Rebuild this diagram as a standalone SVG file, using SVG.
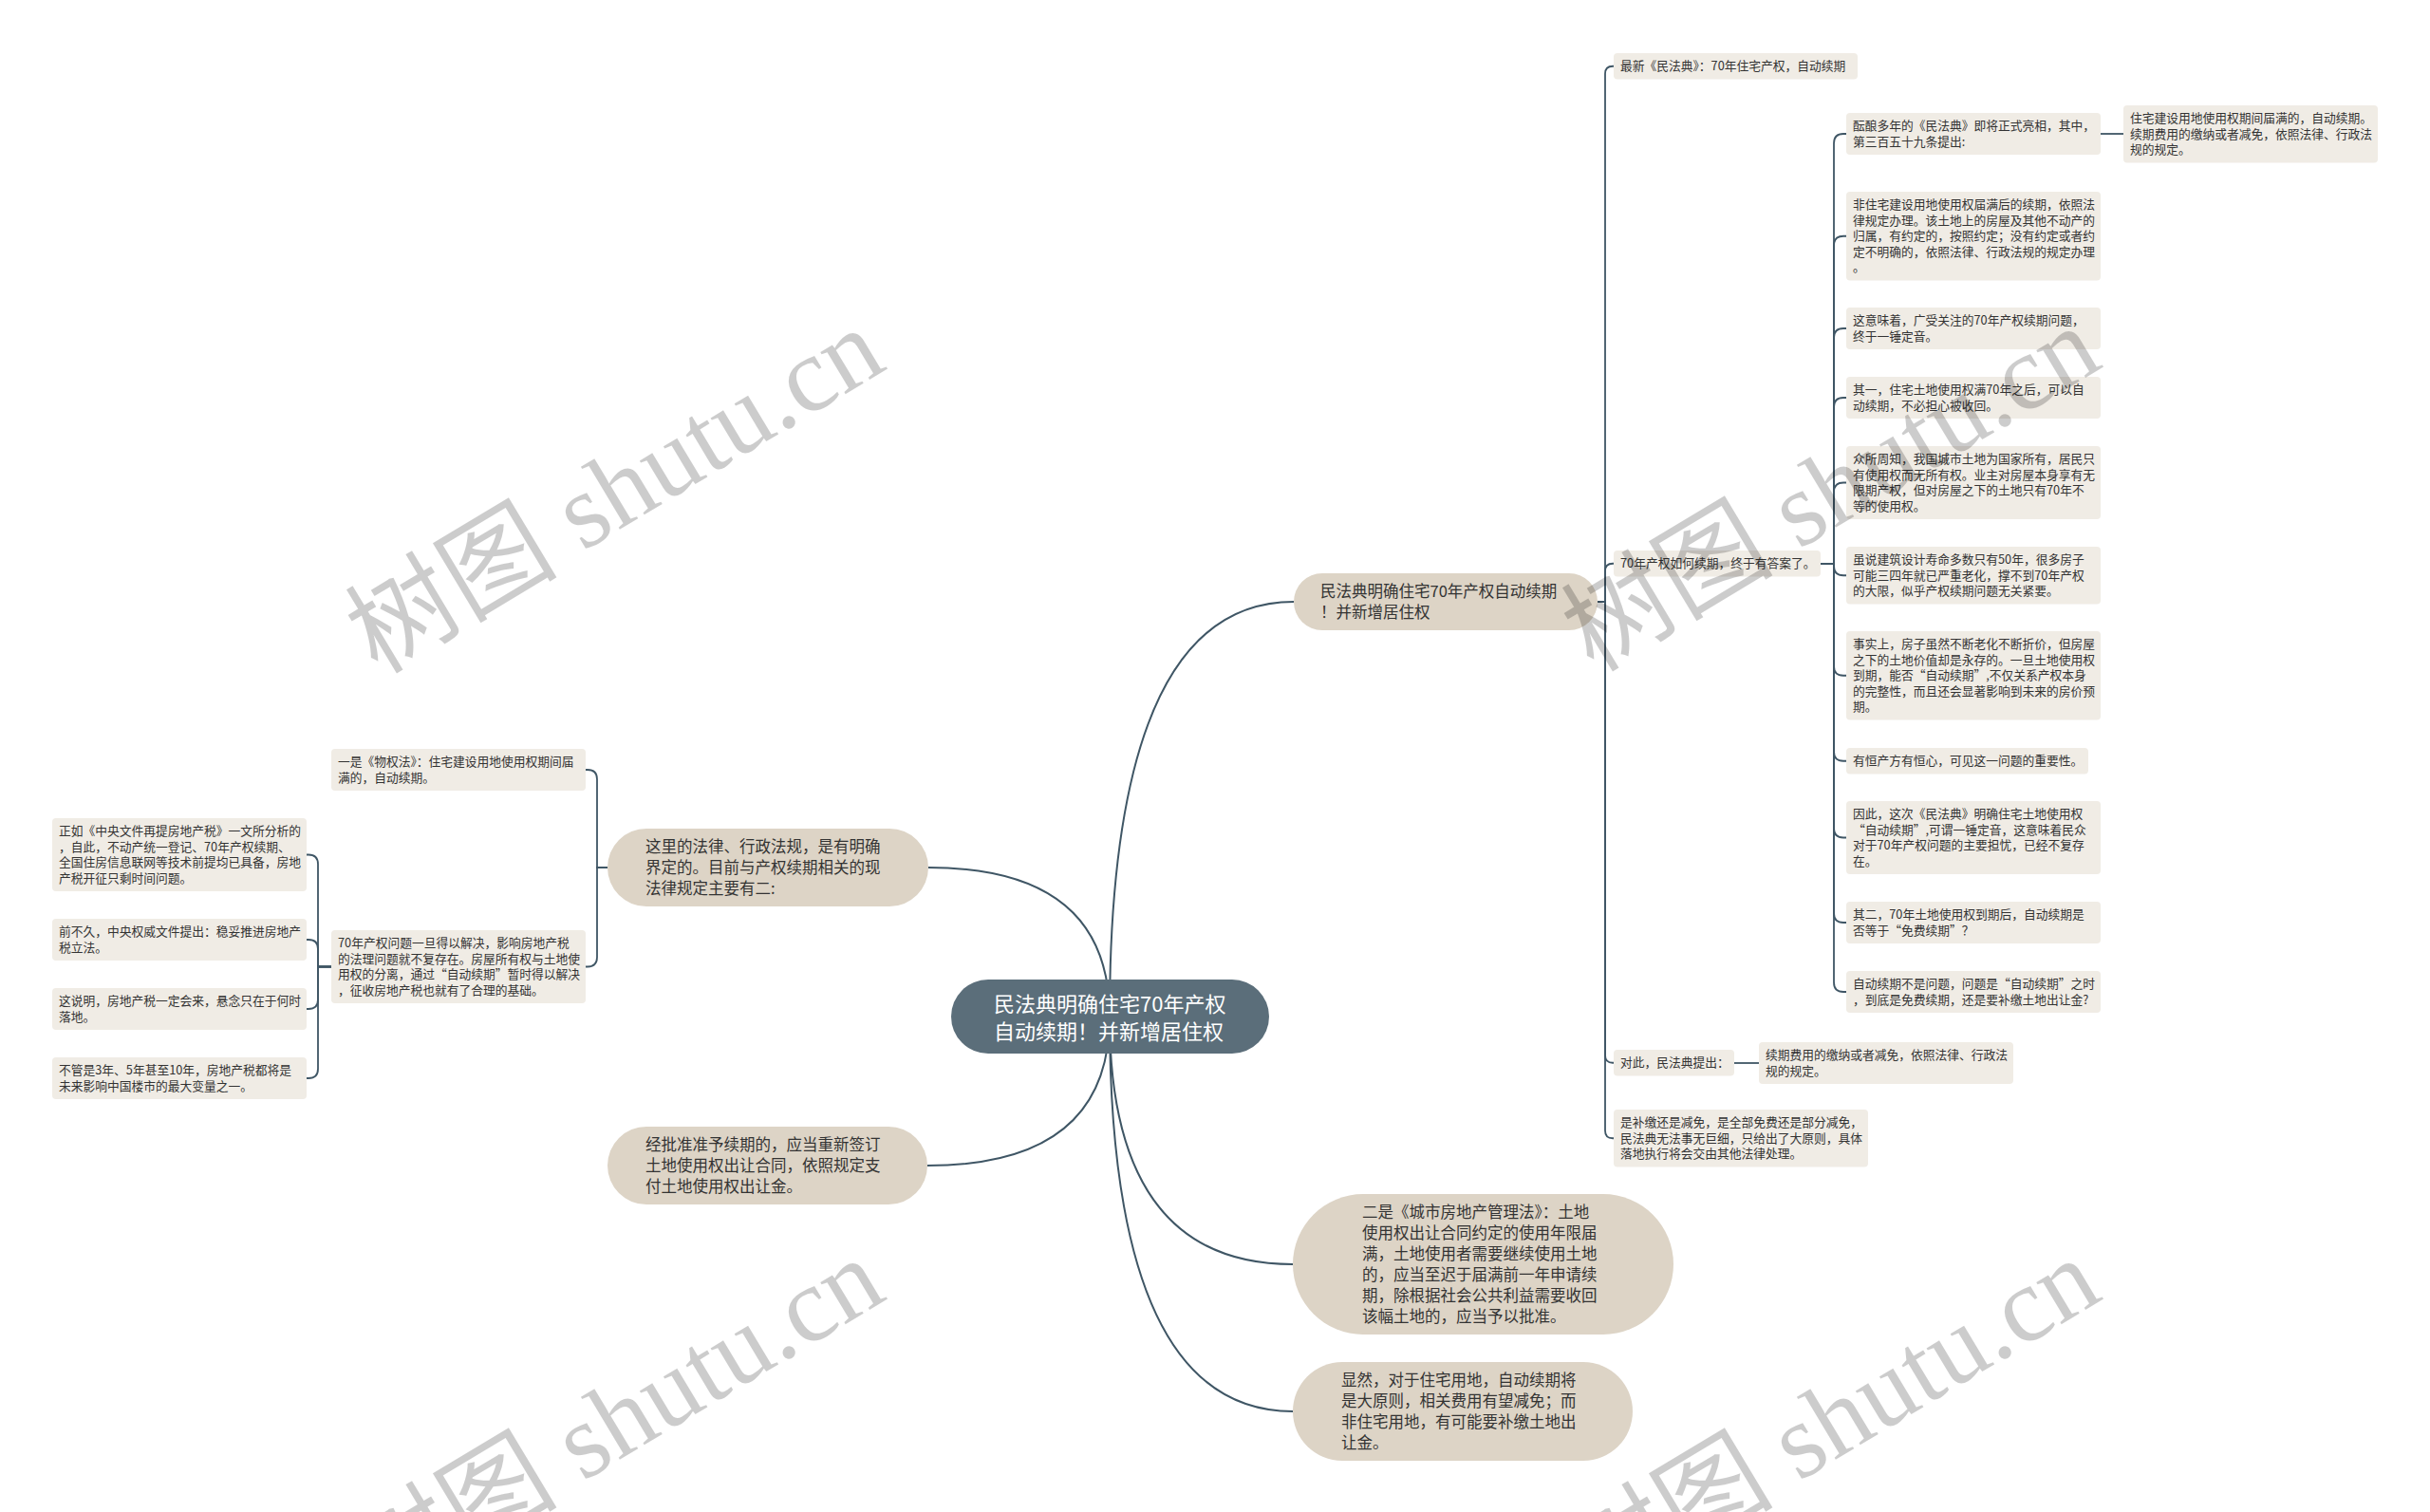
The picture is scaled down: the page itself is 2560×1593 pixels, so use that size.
<svg xmlns="http://www.w3.org/2000/svg" width="2560" height="1593" viewBox="0 0 2560 1593">
<style>
.bg{fill:#ffffff}
.n2{fill:#f0ece5}
.n1{fill:#ddd4c6}
.n0{fill:#5b6e7a}
text{font-family:"Noto Sans CJK SC","Liberation Sans",sans-serif;fill:#333333}
.t2{font-size:12.75px}
.t1{font-size:16.5px}
.t0{font-size:22px;fill:#ffffff}
.c0{fill:none;stroke:#3f5665;stroke-width:2}
.c1{fill:none;stroke:#3f5665;stroke-width:1.8}
.wm{font-family:"Liberation Serif","Noto Sans CJK SC",serif;font-size:112px;fill:#000000;fill-opacity:0.2}
</style>
<rect class="bg" x="0" y="0" width="2560" height="1593"/>
<g id="connectors">
<path class="c0" d="M1169 1071 Q1169 634 1363 634"/>
<path class="c0" d="M1169 1071 Q1169 914 978 914"/>
<path class="c0" d="M1169 1071 Q1169 1228 977 1228"/>
<path class="c0" d="M1169 1071 Q1169 1332 1362 1332"/>
<path class="c0" d="M1169 1071 Q1169 1487 1362 1487"/>
<path class="c1" d="M1683 634 H1691 V77.75 Q1691 69.75 1699 69.75 H1700"/>
<path class="c1" d="M1683 634 H1691 V601.75 Q1691 593.75 1699 593.75 H1700"/>
<path class="c1" d="M1683 634 H1691 V1111.75 Q1691 1119.75 1699 1119.75 H1700"/>
<path class="c1" d="M1683 634 H1691 V1191.25 Q1691 1199.25 1699 1199.25 H1700"/>
<path class="c1" d="M1918 594 H1932 V151 Q1932 141 1942 141 H1945"/>
<path class="c1" d="M1918 594 H1932 V258.75 Q1932 248.75 1942 248.75 H1945"/>
<path class="c1" d="M1918 594 H1932 V356 Q1932 346 1942 346 H1945"/>
<path class="c1" d="M1918 594 H1932 V429 Q1932 419 1942 419 H1945"/>
<path class="c1" d="M1918 594 H1932 V518.5 Q1932 508.5 1942 508.5 H1945"/>
<path class="c1" d="M1918 594 H1932 V596.25 Q1932 606.25 1942 606.25 H1945"/>
<path class="c1" d="M1918 594 H1932 V701.75 Q1932 711.75 1942 711.75 H1945"/>
<path class="c1" d="M1918 594 H1932 V791.75 Q1932 801.75 1942 801.75 H1945"/>
<path class="c1" d="M1918 594 H1932 V872.5 Q1932 882.5 1942 882.5 H1945"/>
<path class="c1" d="M1918 594 H1932 V962 Q1932 972 1942 972 H1945"/>
<path class="c1" d="M1918 594 H1932 V1035 Q1932 1045 1942 1045 H1945"/>
<path class="c1" d="M2213 141 H2237"/>
<path class="c1" d="M1827 1120 H1853"/>
<path class="c1" d="M640 914 H629 V821 Q629 811 619 811 H617"/>
<path class="c1" d="M640 914 H629 V1008.5 Q629 1018.5 619 1018.5 H617"/>
<path class="c1" d="M349 1018.5 H335 V910.5 Q335 900.5 325 900.5 H323"/>
<path class="c1" d="M349 1018.5 H335 V1000 Q335 990 325 990 H323"/>
<path class="c1" d="M349 1018.5 H335 V1053 Q335 1063 325 1063 H323"/>
<path class="c1" d="M349 1018.5 H335 V1126 Q335 1136 325 1136 H323"/>
</g>
<g id="root">
<rect class="n0" x="1002" y="1032" width="335" height="78" rx="39"/>
<text class="t0"><tspan x="1047" y="1065.5">民法典明确住宅70年产权</tspan><tspan x="1047" y="1094.5">自动续期！并新增居住权</tspan></text>
</g>
<g id="branch1">
<rect class="n1" x="1363" y="604" width="320" height="60" rx="30"/>
<text class="t1"><tspan x="1391" y="629.1">民法典明确住宅70年产权自动续期</tspan><tspan x="1391" y="651.1">！并新增居住权</tspan></text>
</g>
<g id="branch2">
<rect class="n1" x="640" y="873" width="338" height="82" rx="41"/>
<text class="t1"><tspan x="680" y="898.1">这里的法律、行政法规，是有明确</tspan><tspan x="680" y="920.1">界定的。目前与产权续期相关的现</tspan><tspan x="680" y="942.1">法律规定主要有二:</tspan></text>
</g>
<g id="branch3">
<rect class="n1" x="640" y="1187" width="337" height="82" rx="41"/>
<text class="t1"><tspan x="680" y="1212.1">经批准准予续期的，应当重新签订</tspan><tspan x="680" y="1234.1">土地使用权出让合同，依照规定支</tspan><tspan x="680" y="1256.1">付土地使用权出让金。</tspan></text>
</g>
<g id="branch4">
<rect class="n1" x="1362" y="1258" width="401" height="148" rx="74"/>
<text class="t1"><tspan x="1435" y="1283.1">二是《城市房地产管理法》：土地</tspan><tspan x="1435" y="1305.1">使用权出让合同约定的使用年限届</tspan><tspan x="1435" y="1327.1">满，土地使用者需要继续使用土地</tspan><tspan x="1435" y="1349.1">的，应当至迟于届满前一年申请续</tspan><tspan x="1435" y="1371.1">期，除根据社会公共利益需要收回</tspan><tspan x="1435" y="1393.1">该幅土地的，应当予以批准。</tspan></text>
</g>
<g id="branch5">
<rect class="n1" x="1362" y="1435" width="358" height="104" rx="52"/>
<text class="t1"><tspan x="1413" y="1460.1">显然，对于住宅用地，自动续期将</tspan><tspan x="1413" y="1482.1">是大原则，相关费用有望减免；而</tspan><tspan x="1413" y="1504.1">非住宅用地，有可能要补缴土地出</tspan><tspan x="1413" y="1526.1">让金。</tspan></text>
</g>
<g id="n-a">
<rect class="n2" x="1700" y="56" width="257" height="27.5" rx="4"/>
<text class="t2"><tspan x="1707" y="74.4">最新《民法典》：70年住宅产权，自动续期</tspan></text>
</g>
<g id="n-b">
<rect class="n2" x="1700" y="580" width="218" height="27.5" rx="4"/>
<text class="t2"><tspan x="1707" y="598.4">70年产权如何续期，终于有答案了。</tspan></text>
</g>
<g id="n-b1">
<rect class="n2" x="1945" y="119" width="268" height="44" rx="4"/>
<text class="t2"><tspan x="1952" y="137.4">酝酿多年的《民法典》即将正式亮相，其中，</tspan><tspan x="1952" y="153.9">第三百五十九条提出:</tspan></text>
</g>
<g id="n-b1a">
<rect class="n2" x="2237" y="111" width="268" height="60.5" rx="4"/>
<text class="t2"><tspan x="2244" y="129.4">住宅建设用地使用权期间届满的，自动续期。</tspan><tspan x="2244" y="145.9">续期费用的缴纳或者减免，依照法律、行政法</tspan><tspan x="2244" y="162.4">规的规定。</tspan></text>
</g>
<g id="n-b2">
<rect class="n2" x="1945" y="202" width="268" height="93.5" rx="4"/>
<text class="t2"><tspan x="1952" y="220.4">非住宅建设用地使用权届满后的续期，依照法</tspan><tspan x="1952" y="236.9">律规定办理。该土地上的房屋及其他不动产的</tspan><tspan x="1952" y="253.4">归属，有约定的，按照约定；没有约定或者约</tspan><tspan x="1952" y="269.9">定不明确的，依照法律、行政法规的规定办理</tspan><tspan x="1952" y="286.4">。</tspan></text>
</g>
<g id="n-b3">
<rect class="n2" x="1945" y="324" width="268" height="44" rx="4"/>
<text class="t2"><tspan x="1952" y="342.4">这意味着，广受关注的70年产权续期问题，</tspan><tspan x="1952" y="358.9">终于一锤定音。</tspan></text>
</g>
<g id="n-b4">
<rect class="n2" x="1945" y="397" width="268" height="44" rx="4"/>
<text class="t2"><tspan x="1952" y="415.4">其一，住宅土地使用权满70年之后，可以自</tspan><tspan x="1952" y="431.9">动续期，不必担心被收回。</tspan></text>
</g>
<g id="n-b5">
<rect class="n2" x="1945" y="470" width="268" height="77" rx="4"/>
<text class="t2"><tspan x="1952" y="488.4">众所周知，我国城市土地为国家所有，居民只</tspan><tspan x="1952" y="504.9">有使用权而无所有权。业主对房屋本身享有无</tspan><tspan x="1952" y="521.4">限期产权，但对房屋之下的土地只有70年不</tspan><tspan x="1952" y="537.9">等的使用权。</tspan></text>
</g>
<g id="n-b6">
<rect class="n2" x="1945" y="576" width="268" height="60.5" rx="4"/>
<text class="t2"><tspan x="1952" y="594.4">虽说建筑设计寿命多数只有50年，很多房子</tspan><tspan x="1952" y="610.9">可能三四年就已严重老化，撑不到70年产权</tspan><tspan x="1952" y="627.4">的大限，似乎产权续期问题无关紧要。</tspan></text>
</g>
<g id="n-b7">
<rect class="n2" x="1945" y="665" width="268" height="93.5" rx="4"/>
<text class="t2"><tspan x="1952" y="683.4">事实上，房子虽然不断老化不断折价，但房屋</tspan><tspan x="1952" y="699.9">之下的土地价值却是永存的。一旦土地使用权</tspan><tspan x="1952" y="716.4">到期，能否“自动续期”,不仅关系产权本身</tspan><tspan x="1952" y="732.9">的完整性，而且还会显著影响到未来的房价预</tspan><tspan x="1952" y="749.4">期。</tspan></text>
</g>
<g id="n-b8">
<rect class="n2" x="1945" y="788" width="255" height="27.5" rx="4"/>
<text class="t2"><tspan x="1952" y="806.4">有恒产方有恒心，可见这一问题的重要性。</tspan></text>
</g>
<g id="n-b9">
<rect class="n2" x="1945" y="844" width="268" height="77" rx="4"/>
<text class="t2"><tspan x="1952" y="862.4">因此，这次《民法典》明确住宅土地使用权</tspan><tspan x="1952" y="878.9">“自动续期”,可谓一锤定音，这意味着民众</tspan><tspan x="1952" y="895.4">对于70年产权问题的主要担忧，已经不复存</tspan><tspan x="1952" y="911.9">在。</tspan></text>
</g>
<g id="n-b10">
<rect class="n2" x="1945" y="950" width="268" height="44" rx="4"/>
<text class="t2"><tspan x="1952" y="968.4">其二，70年土地使用权到期后，自动续期是</tspan><tspan x="1952" y="984.9">否等于“免费续期”？</tspan></text>
</g>
<g id="n-b11">
<rect class="n2" x="1945" y="1023" width="268" height="44" rx="4"/>
<text class="t2"><tspan x="1952" y="1041.4">自动续期不是问题，问题是“自动续期”之时</tspan><tspan x="1952" y="1057.9">，到底是免费续期，还是要补缴土地出让金?</tspan></text>
</g>
<g id="n-c">
<rect class="n2" x="1700" y="1106" width="127" height="27.5" rx="4"/>
<text class="t2"><tspan x="1707" y="1124.4">对此，民法典提出：</tspan></text>
</g>
<g id="n-c1">
<rect class="n2" x="1853" y="1098" width="268" height="44" rx="4"/>
<text class="t2"><tspan x="1860" y="1116.4">续期费用的缴纳或者减免，依照法律、行政法</tspan><tspan x="1860" y="1132.9">规的规定。</tspan></text>
</g>
<g id="n-d">
<rect class="n2" x="1700" y="1169" width="268" height="60.5" rx="4"/>
<text class="t2"><tspan x="1707" y="1187.4">是补缴还是减免，是全部免费还是部分减免，</tspan><tspan x="1707" y="1203.9">民法典无法事无巨细，只给出了大原则，具体</tspan><tspan x="1707" y="1220.4">落地执行将会交由其他法律处理。</tspan></text>
</g>
<g id="n-l1">
<rect class="n2" x="349" y="789" width="268" height="44" rx="4"/>
<text class="t2"><tspan x="356" y="807.4">一是《物权法》：住宅建设用地使用权期间届</tspan><tspan x="356" y="823.9">满的，自动续期。</tspan></text>
</g>
<g id="n-l2">
<rect class="n2" x="349" y="980" width="268" height="77" rx="4"/>
<text class="t2"><tspan x="356" y="998.4">70年产权问题一旦得以解决，影响房地产税</tspan><tspan x="356" y="1014.9">的法理问题就不复存在。房屋所有权与土地使</tspan><tspan x="356" y="1031.4">用权的分离，通过“自动续期”暂时得以解决</tspan><tspan x="356" y="1047.9">，征收房地产税也就有了合理的基础。</tspan></text>
</g>
<g id="n-ll1">
<rect class="n2" x="55" y="862" width="268" height="77" rx="4"/>
<text class="t2"><tspan x="62" y="880.4">正如《中央文件再提房地产税》一文所分析的</tspan><tspan x="62" y="896.9">，自此，不动产统一登记、70年产权续期、</tspan><tspan x="62" y="913.4">全国住房信息联网等技术前提均已具备，房地</tspan><tspan x="62" y="929.9">产税开征只剩时间问题。</tspan></text>
</g>
<g id="n-ll2">
<rect class="n2" x="55" y="968" width="268" height="44" rx="4"/>
<text class="t2"><tspan x="62" y="986.4">前不久，中央权威文件提出：稳妥推进房地产</tspan><tspan x="62" y="1002.9">税立法。</tspan></text>
</g>
<g id="n-ll3">
<rect class="n2" x="55" y="1041" width="268" height="44" rx="4"/>
<text class="t2"><tspan x="62" y="1059.4">这说明，房地产税一定会来，悬念只在于何时</tspan><tspan x="62" y="1075.9">落地。</tspan></text>
</g>
<g id="n-ll4">
<rect class="n2" x="55" y="1114" width="268" height="44" rx="4"/>
<text class="t2"><tspan x="62" y="1132.4">不管是3年、5年甚至10年，房地产税都将是</tspan><tspan x="62" y="1148.9">未来影响中国楼市的最大变量之一。</tspan></text>
</g>
<g id="watermarks">
<text class="wm" x="647" y="555" text-anchor="middle" transform="rotate(-31 647 516)">树图 shutu.cn</text>
<text class="wm" x="1928" y="553" text-anchor="middle" transform="rotate(-31 1928 514)">树图 shutu.cn</text>
<text class="wm" x="647" y="1535" text-anchor="middle" transform="rotate(-31 647 1496)">树图 shutu.cn</text>
<text class="wm" x="1928" y="1535" text-anchor="middle" transform="rotate(-31 1928 1496)">树图 shutu.cn</text>
</g>
</svg>
